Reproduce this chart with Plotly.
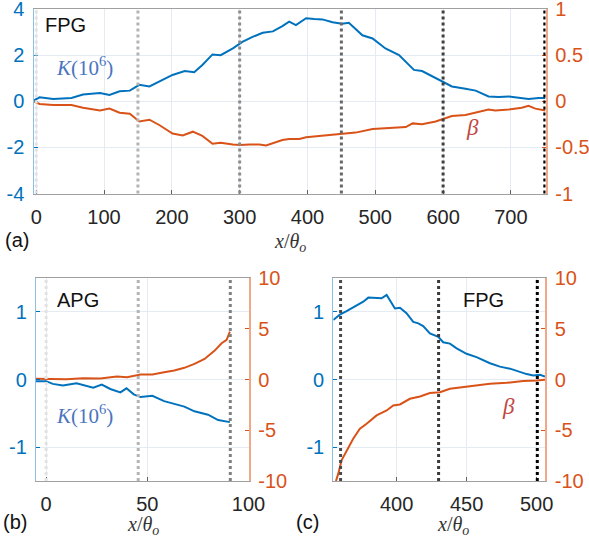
import plotly.graph_objects as go

W, H = 589, 546
BLUE = "#0072BD"
ORANGE = "#D95319"

# ---------- data: panel (a) ----------
a_xK = [-4, 5, 25, 52, 69, 94, 108, 123, 138, 152, 167, 182, 201, 219, 233, 245, 260, 272, 290, 304,
        319, 334, 349, 363, 373, 383, 398, 410, 422, 437, 451, 461, 481, 496, 515, 535, 549, 557, 569,
        584, 598, 613, 633, 648, 667, 682, 697, 711, 726, 741, 751]
a_K = [0.03, 0.17, 0.10, 0.14, 0.29, 0.36, 0.27, 0.43, 0.46, 0.71, 0.64, 0.86, 1.14, 1.31, 1.26, 1.57,
       2.03, 2.00, 2.29, 2.57, 2.79, 2.97, 3.03, 3.26, 3.45, 3.30, 3.60, 3.57, 3.55, 3.43, 3.36, 3.40,
       2.86, 2.72, 2.29, 2.00, 1.57, 1.36, 1.31, 1.07, 0.86, 0.64, 0.54, 0.46, 0.21, 0.18, 0.21, 0.17,
       0.10, 0.14, 0.14]
a_xB = [-4, 5, 25, 52, 69, 94, 108, 123, 138, 152, 167, 182, 201, 216, 231, 245, 260, 272, 290, 300,
        315, 329, 339, 353, 363, 373, 388, 398, 422, 446, 471, 496, 520, 545, 555, 569, 589, 598, 613,
        633, 648, 667, 677, 697, 716, 726, 736, 751]
a_B = [0.0, -0.03, -0.04, -0.04, -0.07, -0.10, -0.08, -0.125, -0.135, -0.22, -0.20, -0.26, -0.35, -0.37,
       -0.33, -0.375, -0.46, -0.45, -0.47, -0.475, -0.47, -0.47, -0.48, -0.44, -0.42, -0.41, -0.41,
       -0.39, -0.375, -0.36, -0.34, -0.30, -0.29, -0.28, -0.24, -0.25, -0.22, -0.20, -0.16, -0.15,
       -0.125, -0.09, -0.10, -0.09, -0.07, -0.05, -0.08, -0.10]
a_lines = [0, 150, 300, 450, 600, 750]
a_line_colors = ["#e2e2e2", "#b4b4b4", "#8c8c8c", "#686868", "#404040", "#000000"]

# ---------- data: panel (b) ----------
b_xK = [-5, 0, 3.3, 8.3, 15, 20, 23.3, 27.5, 31.7, 36.7, 39.7, 43.3, 46.7, 52.5, 58.3, 63.3, 68.3,
        73.3, 80, 85, 90.8]
b_K = [-0.025, -0.025, -0.065, -0.09, -0.055, -0.10, -0.12, -0.075, -0.14, -0.19, -0.13, -0.22, -0.26,
       -0.24, -0.32, -0.36, -0.40, -0.47, -0.52, -0.60, -0.63]
b_xB = [-5, 0, 10, 18.3, 26.7, 35, 40, 46.7, 52.5, 58.3, 63.3, 68.3, 73.3, 78.3, 83.3, 86.7, 89.2, 90.8]
b_B = [0.07, 0.07, 0.03, 0.13, 0.10, 0.30, 0.23, 0.50, 0.50, 0.72, 0.89, 1.15, 1.54, 2.03, 2.85, 3.57,
       3.90, 4.72]
b_lines = [0, 45.5, 91]
b_line_colors = ["#e2e2e2", "#b4b4b4", "#808080"]

# ---------- data: panel (c) ----------
c_xK = [354.8, 359.5, 364.3, 371.4, 376.2, 379.8, 385.7, 389.3, 392.9, 396.4, 398.8, 402.4, 407.1,
        411.9, 415.5, 419, 423.8, 429.8, 433.3, 438.1, 442.9, 450, 457.1, 466.7, 473.8, 481, 488.1,
        492.9, 497.6, 502.4, 506]
c_K = [0.88, 0.96, 1.01, 1.10, 1.15, 1.21, 1.21, 1.20, 1.25, 1.12, 1.05, 1.06, 0.98, 0.85, 0.83, 0.79,
       0.68, 0.63, 0.55, 0.53, 0.46, 0.38, 0.33, 0.24, 0.19, 0.16, 0.11, 0.08, 0.06, 0.07, 0.045]
c_xB = [356.7, 358.3, 360.7, 364.3, 369, 373.8, 378.6, 385.7, 392.9, 397.6, 402.4, 409.5, 416.7, 423.8,
        431, 438.1, 447.6, 457.1, 466.7, 478.6, 490.5, 500, 506]
c_B = [-10.0, -9.3, -7.97, -6.98, -5.84, -4.85, -4.36, -3.54, -3.05, -2.56, -2.46, -1.90, -1.67, -1.34,
       -1.25, -0.92, -0.75, -0.59, -0.43, -0.33, -0.16, -0.10, -0.03]
c_lines = [360, 430, 500.5]
c_line_colors = ["#4a4a4a", "#3a3a3a", "#000000"]

# ---------- tick labels ----------
a_left_vals = [-4, -2, 0, 2, 4]
a_left_text = ["-4", "-2", "0", "2", "4"]
a_right_vals = [-1, -0.5, 0, 0.5, 1]
a_right_text = ["-1", "-0.5", "0", "0.5", "1"]
bc_left_vals = [-1, 0, 1]
bc_left_text = ["-1", "0", "1"]
bc_right_vals = [-10, -5, 0, 5, 10]
bc_right_text = ["-10", "-5", "0", "5", "10"]


def px(x):
    return x / W


def py(y):
    return 1 - y / H


SANS = "Liberation Sans, Arial, Helvetica, sans-serif"
SERIF = "Liberation Serif, Times New Roman, serif"
GRID = "#e4ebf2"
BOX = "#a0a0a0"

fig = go.Figure()
fig.add_trace(go.Scatter(x=a_xK, y=a_K, mode="lines", line=dict(color=BLUE, width=2), xaxis="x", yaxis="y"))
fig.add_trace(go.Scatter(x=a_xB, y=a_B, mode="lines", line=dict(color=ORANGE, width=2), xaxis="x", yaxis="y2"))
fig.add_trace(go.Scatter(x=b_xK, y=b_K, mode="lines", line=dict(color=BLUE, width=2), xaxis="x2", yaxis="y3"))
fig.add_trace(go.Scatter(x=b_xB, y=b_B, mode="lines", line=dict(color=ORANGE, width=2), xaxis="x2", yaxis="y4"))
fig.add_trace(go.Scatter(x=c_xK, y=c_K, mode="lines", line=dict(color=BLUE, width=2), xaxis="x3", yaxis="y5"))
fig.add_trace(go.Scatter(x=c_xB, y=c_B, mode="lines", line=dict(color=ORANGE, width=2), xaxis="x3", yaxis="y6"))

shapes = []
for xr, yr, vals, cols in [("x", "y", a_lines, a_line_colors),
                           ("x2", "y3", b_lines, b_line_colors),
                           ("x3", "y5", c_lines, c_line_colors)]:
    for v, c in zip(vals, cols):
        shapes.append(dict(type="line", xref=xr, yref=yr + " domain", x0=v, x1=v, y0=0, y1=1,
                           line=dict(color=c, width=3, dash="dot"), layer="above"))

tickfont_x = dict(family=SANS, size=20, color="#262626")


def xaxis(domain, anchor, rng, dtick):
    return dict(domain=domain, anchor=anchor, range=rng, dtick=dtick, showgrid=True, gridcolor=GRID,
                zeroline=False, showline=True, linecolor=BOX, linewidth=1, mirror=True,
                ticks="inside", ticklen=4, tickcolor="#606060", tickfont=tickfont_x,
                ticklabelstandoff=5, automargin=False, ticklabeloverflow="allow")


def yleft(domain, anchor, rng, vals, text):
    return dict(domain=domain, anchor=anchor, range=rng, tickvals=vals, ticktext=text, showgrid=True,
                gridcolor=GRID, zeroline=False, showline=True, linecolor="#8cbfe4", linewidth=1.2,
                ticks="inside", ticklen=4, tickcolor=BLUE,
                tickfont=dict(family=SANS, size=20, color=BLUE), ticklabelstandoff=4, automargin=False,
                ticklabeloverflow="allow")


def yright(overlay, anchor, rng, vals, text):
    return dict(overlaying=overlay, anchor=anchor, side="right", range=rng, tickvals=vals, ticktext=text,
                showgrid=False, zeroline=False, showline=True, linecolor="#f2a888", linewidth=1.5,
                ticks="inside", ticklen=4, tickcolor=ORANGE,
                tickfont=dict(family=SANS, size=20, color=ORANGE), ticklabelstandoff=4, automargin=False,
                ticklabeloverflow="allow")


ya = [py(193.5), py(9)]
ybc = [py(481), py(278)]

annotations = []


def txt(x, y, s, font, xanchor="center"):
    annotations.append(dict(x=px(x), y=py(y), xref="paper", yref="paper", text=s, showarrow=False,
                            xanchor=xanchor, yanchor="middle", font=font))


f_lbl = dict(family=SANS, size=20, color="#111111")
f_K = dict(family=SERIF, size=21, color="#4a74c0")
f_beta = dict(family=SERIF, size=23, color="#c2473f")
f_x = dict(family=SERIF, size=20, color="#333333")
xlab = "<i>x</i>/<i>θ<sub>o</sub></i>"
Klab = "<i>K</i>(10<sup>6</sup>)"

txt(43, 25, "FPG", f_lbl, "left")
txt(54, 66, Klab, f_K, "left")
txt(472, 127, "<i>β</i>", f_beta)
txt(290, 242, xlab, f_x)
txt(3, 240, "(a)", f_lbl, "left")

txt(55, 300, "APG", f_lbl, "left")
txt(54, 414, Klab, f_K, "left")
txt(143, 525, xlab, f_x)
txt(1, 522, "(b)", f_lbl, "left")

txt(461, 300, "FPG", f_lbl, "left")
txt(508, 406, "<i>β</i>", f_beta)
txt(453, 525, xlab, f_x)
txt(294, 522, "(c)", f_lbl, "left")

fig.update_layout(
    width=W, height=H, margin=dict(l=0, r=0, t=0, b=0, autoexpand=False),
    paper_bgcolor="white", plot_bgcolor="white", showlegend=False,
    xaxis=xaxis([px(33.5), px(545.5)], "y", [-4, 751], 100),
    yaxis=yleft(ya, "x", [-4, 4], a_left_vals, a_left_text),
    yaxis2=yright("y", "x", [-1, 1], a_right_vals, a_right_text),
    xaxis2=xaxis([px(36), px(248.5)], "y3", [-5, 100], 50),
    yaxis3=yleft(ybc, "x2", [-1.5, 1.5], bc_left_vals, bc_left_text),
    yaxis4=yright("y3", "x2", [-10, 10], bc_right_vals, bc_right_text),
    xaxis3=xaxis([px(333.3), px(545)], "y5", [354.8, 506], 50),
    yaxis5=yleft(ybc, "x3", [-1.5, 1.5], bc_left_vals, bc_left_text),
    yaxis6=yright("y5", "x3", [-10, 10], bc_right_vals, bc_right_text),
    shapes=shapes, annotations=annotations,
)

fig.write_html("out.html")
